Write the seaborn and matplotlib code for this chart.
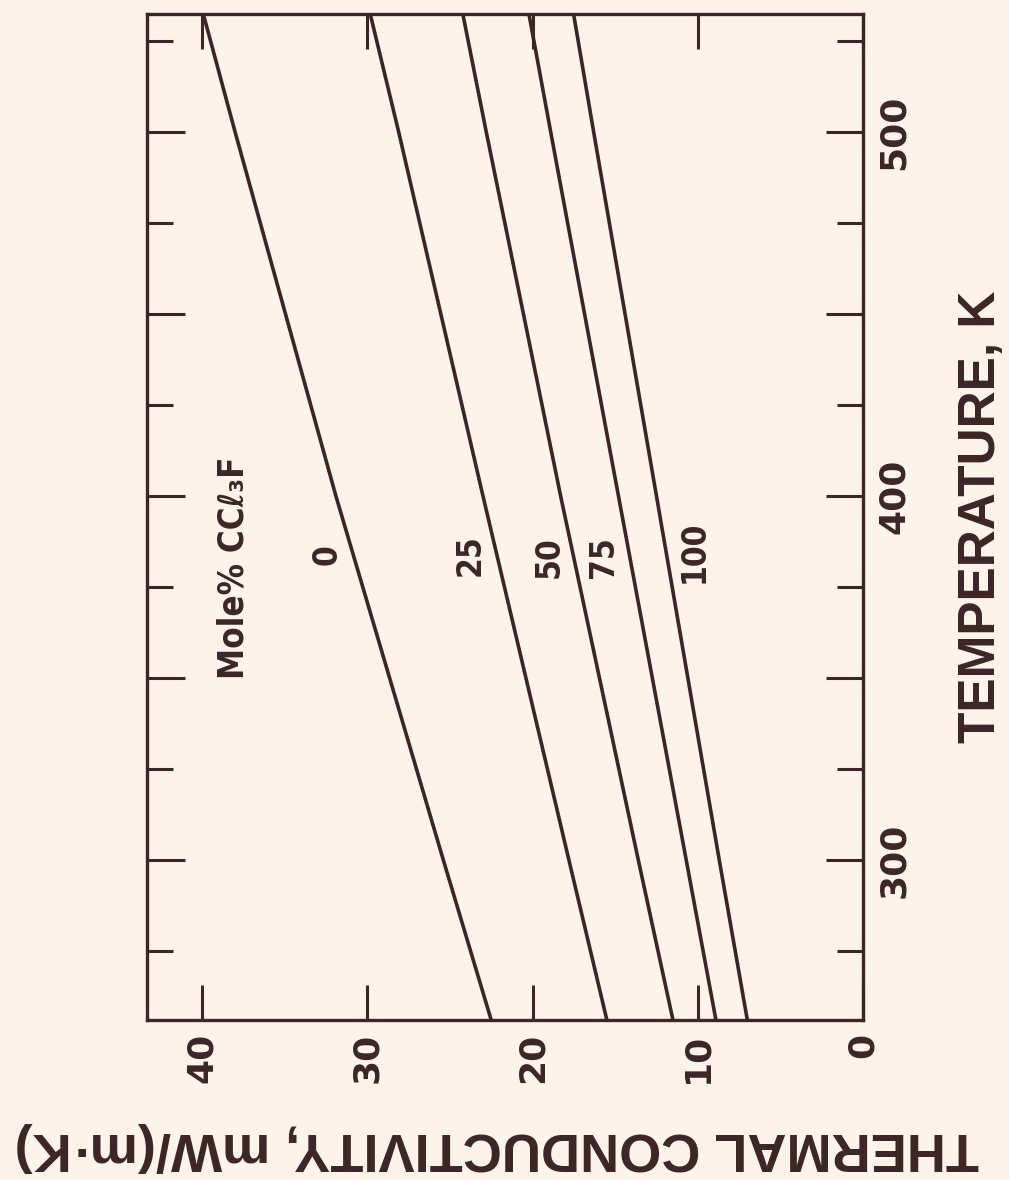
import matplotlib
matplotlib.use("Agg")
import matplotlib.pyplot as plt
import pandas as pd
import seaborn as sns

# ---------------- data ----------------
temperature_K = [256, 300, 400, 500, 532]
mole_pct = ["0", "25", "50", "75", "100"]
k_mole0 = [22.5, 25.4, 31.9, 38.0, 39.9]
k_mole25 = [15.5, 17.8, 23.0, 28.1, 29.8]
k_mole50 = [11.5, 13.6, 18.3, 22.8, 24.2]
k_mole75 = [8.9, 10.7, 14.8, 18.9, 20.2]
k_mole100 = [7.0, 8.7, 12.5, 16.3, 17.5]

k_ticks = [0, 10, 20, 30, 40]
k_ticklabels = ["0", "10", "20", "30", "40"]
t_major = [300, 350, 400, 450, 500]
t_major_labels = ["300", "", "400", "", "500"]
t_minor = [275, 325, 375, 425, 475, 525]

x_title = "THERMAL CONDUCTIVITY, mW/(m·K)"
y_title = "TEMPERATURE, K"
legend_title = "Mole% CCℓ₃F"

# ---------------- table ----------------
series = [k_mole0, k_mole25, k_mole50, k_mole75, k_mole100]
rows = []
for m, ks in zip(mole_pct, series):
    for t, k in zip(temperature_K, ks):
        rows.append({"T": t, "k": k, "mole": m})
df = pd.DataFrame(rows)

# ---------------- style ----------------
BG = "#fcf4ea"
INK = "#3b2527"

sns.set_style("ticks")
plt.rcParams["font.family"] = ["DejaVu Sans"]
plt.rcParams["text.color"] = INK
plt.rcParams["axes.edgecolor"] = INK

fig = plt.figure(figsize=(10.09, 11.80), dpi=100, facecolor=BG)
ax = fig.add_axes([147 / 1009, 160 / 1180, 716 / 1009, 1006 / 1180])
ax.set_facecolor(BG)

sns.lineplot(data=df, x="k", y="T", hue="mole",
             palette={m: INK for m in mole_pct},
             estimator=None, sort=False, legend=False,
             linewidth=2.6, ax=ax)

ax.set_xlim(43.33, 0)
ax.set_ylim(256, 532.4)

for s in ax.spines.values():
    s.set_linewidth(2.4)
    s.set_color(INK)
    s.set_visible(True)

ax.yaxis.tick_right()
ax.yaxis.set_label_position("right")

ax.set_xticks(k_ticks)
ax.set_xticklabels(k_ticklabels)
ax.set_yticks(t_major)
ax.set_yticklabels(t_major_labels)
ax.set_yticks(t_minor, minor=True)

ax.tick_params(axis="x", which="major", direction="in", length=25, width=2.2,
               top=True, bottom=True, labelbottom=True, labeltop=False,
               pad=9, colors=INK, labelcolor=INK)
ax.tick_params(axis="y", which="major", direction="in", length=27, width=2.2,
               left=True, right=True, labelright=True, labelleft=False,
               pad=10, colors=INK, labelcolor=INK)
ax.tick_params(axis="y", which="minor", direction="in", length=19, width=2.2,
               left=True, right=True, colors=INK)

for lab in ax.get_xticklabels():
    lab.set_rotation(90)
    lab.set_fontsize(26)
    lab.set_fontweight("bold")
    lab.set_ha("center")
    lab.set_va("top")
for lab in ax.get_yticklabels():
    lab.set_rotation(90)
    lab.set_fontsize(26)
    lab.set_fontweight("bold")
    lab.set_ha("left")
    lab.set_va("center")

ax.set_xlabel(x_title, rotation=180, fontsize=39, fontweight="bold",
              family=["Liberation Sans", "DejaVu Sans"], color=INK,
              ha="center", va="center")
ax.xaxis.set_label_coords(0.489, -0.126)
ax.set_ylabel(y_title, rotation=90, fontsize=37, fontweight="bold",
              family=["Liberation Sans", "DejaVu Sans"], color=INK,
              ha="center", va="center")
ax.yaxis.set_label_coords(1.165, 0.50)

# curve labels
lab_kw = dict(rotation=90, ha="center", va="center", fontsize=24,
              fontweight="bold", fontstretch="condensed", color=INK)
ax.text(38.1, 380.2, legend_title, **dict(lab_kw, fontsize=25))
label_pos = {"0": 32.4, "25": 23.8, "50": 19.0, "75": 15.7, "100": 10.2}
label_T = {"0": 383.8, "25": 383.8, "50": 383.2, "75": 383.2, "100": 384.6}
for m in mole_pct:
    ax.text(label_pos[m], label_T[m], m, **lab_kw)

fig.savefig("out.png", dpi=100, facecolor=BG)
